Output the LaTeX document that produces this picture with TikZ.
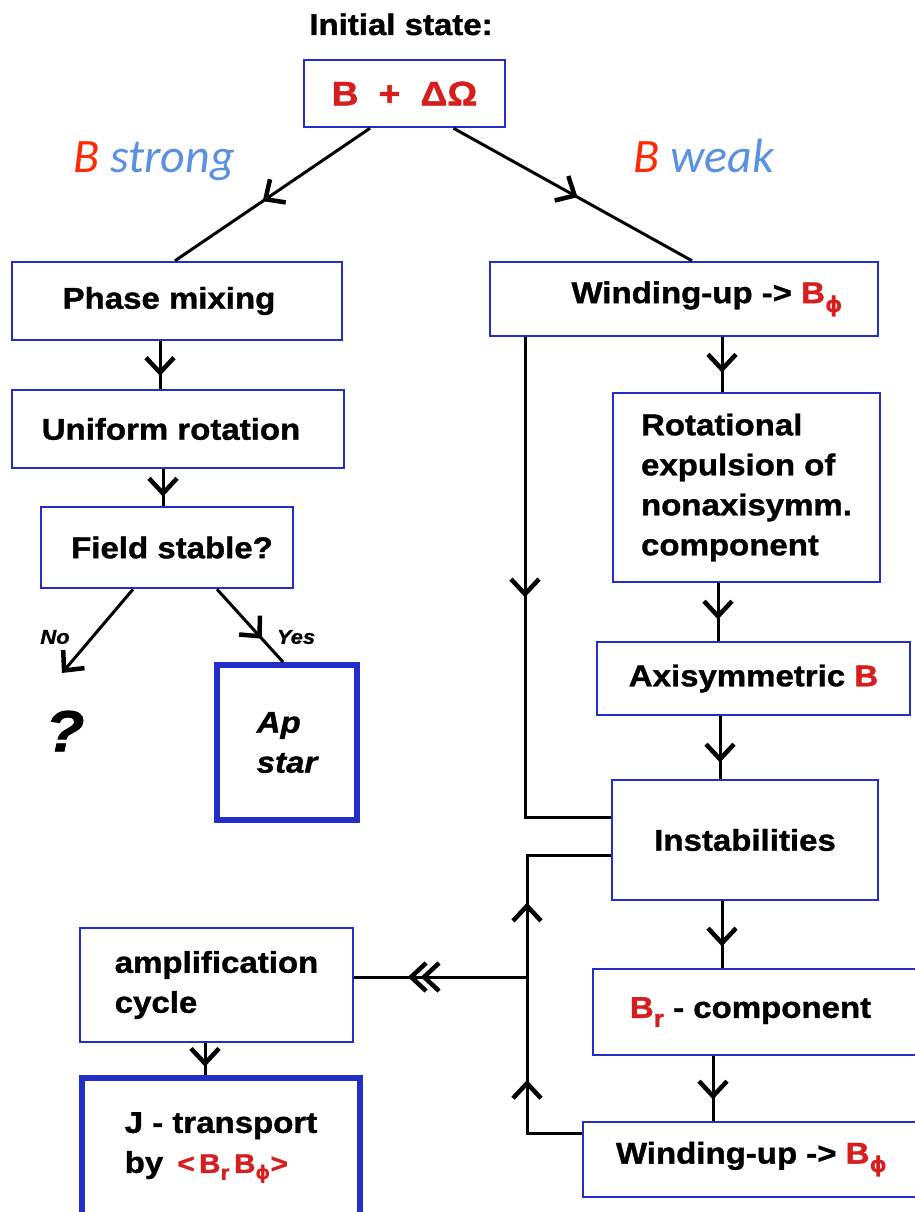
\documentclass[tikz,border=0pt]{standalone}
\usepackage{fontspec}
\newfontfamily\hv{Liberation Sans}[FakeStretch=1.1,FakeBold=1.2]
\newfontfamily\dv{DejaVu Sans}
\newfontfamily\cb{Carlito}
\usetikzlibrary{arrows.meta,decorations.markings,calc}
\definecolor{boxblue}{RGB}{35,45,200}
\definecolor{tred}{RGB}{215,30,30}
\definecolor{lred}{RGB}{255,40,0}
\definecolor{lblue}{RGB}{90,145,225}
\newcommand\myBphi[1]{{\color{tred}B\raisebox{-9pt}{\dv\bfseries\fontsize{#1}{#1}\selectfont ϕ}}}
\tikzset{
  barb/.tip={Straight Barb[length=15pt,width=28pt,line width=4.5pt]},
  conn/.style={draw=black,line width=3pt},
  marr/.style={postaction={decorate,decoration={markings,mark=at position #1 with {\arrow{barb}}}}},
  dmarr/.style 2 args={postaction={decorate,decoration={markings,
      mark=at position #1 with {\arrow{barb}},
      mark=at position #2 with {\arrow{barb}}}}},
  box/.style={draw=boxblue,line width=2.5pt,inner sep=0pt,fill=white,
      font=\hv\bfseries\fontsize{30}{40}\selectfont},
  thickbox/.style={box,line width=6pt},
  lbl/.style={inner sep=0pt,font=\hv\bfseries\fontsize{30}{40}\selectfont},
  hdr/.style={inner sep=0pt,font=\cb\itshape\fontsize{48}{50}\selectfont},
  small/.style={inner sep=0pt,font=\hv\bfseries\itshape\fontsize{20}{20}\selectfont},
}
\begin{document}
\begin{tikzpicture}[x=1pt,y=-1pt]
\fill[white] (0,0) rectangle (915,1212);
\useasboundingbox (0,0) rectangle (915,1212);

% texts
\node[lbl,anchor=base] (title) at (401,35) {Initial state:};
\node[hdr,anchor=base west] (strong) at (73,172) {{\color{lred}B} {\color{lblue}strong}};
\node[hdr,anchor=base west] (weak) at (633,172) {{\color{lred}B} {\color{lblue}weak}};

% boxes
\node[box,minimum width=201pt,minimum height=67pt] (init) at (404.5,93.5)
  {\fontsize{34}{40}\selectfont\color{tred}B\hspace{20pt}+\hspace{20pt}ΔΩ};
\node[box,minimum width=330pt,minimum height=78pt] (phase) at (177,301) {Phase mixing\hspace*{16pt}};
\node[box,minimum width=332pt,minimum height=78pt] (unif) at (178,429) {Uniform rotation\hspace*{14pt}};
\node[box,minimum width=252pt,minimum height=81pt] (field) at (167,547.5) {\hspace*{10pt}Field stable?};
\node[thickbox,minimum width=140pt,minimum height=155pt,align=left,
      font=\hv\bfseries\itshape\fontsize{30}{40}\selectfont] (ap) at (287,742.5) {Ap\\star};
\node[inner sep=0pt,font=\hv\bfseries\itshape\fontsize{58}{58}\selectfont] (quest) at (65,731) {?};
\node[small] (no) at (55,637) {No};
\node[small] (yes) at (296,637) {Yes};

\node[box,minimum width=388pt,minimum height=74pt] (wind1) at (684,299)
  {\hspace*{46pt}Winding-up -> \myBphi{22}};
\node[box,minimum width=267pt,minimum height=189pt,align=left] (rot) at (746.5,487.5)
  {Rotational\\expulsion of\\nonaxisymm.\\component};
\node[box,minimum width=313pt,minimum height=73pt] (axi) at (753.5,678.5)
  {Axisymmetric {\color{tred}B}};
\node[box,minimum width=266pt,minimum height=120pt] (ins) at (745,840) {Instabilities};
\node[box,minimum width=327pt,minimum height=86pt] (br) at (756.5,1012)
  {{\color{tred}B\raisebox{-9pt}{\fontsize{24}{24}\selectfont r}} - component\hspace*{12pt}};
\node[box,minimum width=337pt,minimum height=75pt] (w2) at (751.5,1159.5)
  {Winding-up -> \myBphi{22}};

\node[box,minimum width=273pt,minimum height=114pt,align=left] (amp) at (216.5,985)
  {amplification\\cycle};
\node[thickbox,minimum width=278pt,minimum height=140pt,align=left] (jt) at (221,1148)
  {J - transport\\by\hspace{14pt}{\color{tred}\fontsize{27}{30}\selectfont
   <\,B\raisebox{-7pt}{\fontsize{21}{21}\selectfont r}\,B\raisebox{-7pt}{\dv\bfseries\fontsize{19}{19}\selectfont ϕ}>}};

% coordinates
\coordinate (qa) at (62,673);
\coordinate (k) at (525,817);
\coordinate (j1) at (527,1133);
\coordinate (j2) at (527,977);
\coordinate (j3) at (527,855);

% connectors
\draw[conn,marr=0.55] ([xshift=-34.5pt]init.south) -- ([xshift=-2pt]phase.north);
\draw[conn,marr=0.52] ([xshift=49pt]init.south) -- ([xshift=8pt]wind1.north);
\draw[conn,marr=0.73] ([xshift=-17pt]phase.south) -- ([xshift=-17pt]phase.south |- unif.north);
\draw[conn,marr=0.75] ([xshift=-15pt]unif.south) -- ([xshift=-15pt]unif.south |- field.north);
\draw[conn,-{barb}] ([xshift=-34pt]field.south) -- (qa);
\draw[conn,marr=0.68] ([xshift=50pt]field.south) -- ([xshift=-4pt]ap.north);

\draw[conn,marr=0.65] ([xshift=38pt]wind1.south) -- ([xshift=38pt]wind1.south |- rot.north);
\draw[conn,marr=0.46] (k |- wind1.south) -- (k) -- (k -| ins.west);
\draw[conn,marr=0.63] ([xshift=-28.5pt]rot.south) -- ([xshift=-28.5pt]rot.south |- axi.north);
\draw[conn,marr=0.74] ([xshift=-33.5pt]axi.south) -- ([xshift=-33.5pt]axi.south |- ins.north);
\draw[conn,marr=0.68] ([xshift=-23pt]ins.south) -- ([xshift=-23pt]ins.south |- br.north);
\draw[conn,marr=0.67] ([xshift=-43.5pt]br.south) -- ([xshift=-43.5pt]br.south |- w2.north);

\draw[conn,line join=miter] (j1 -| w2.west) -- (j1) -- (j3) -- (j3 -| ins.west);
\draw[conn,marr=0.34] (j1) -- (j2);
\draw[conn,marr=0.61] (j2) -- (j3);
\draw[conn,dmarr={0.615}{0.69}] (j2) -- (j2 -| amp.east);
\draw[conn,marr=0.74] ([xshift=-11.5pt]amp.south) -- ([xshift=-11.5pt]amp.south |- jt.north);
\end{tikzpicture}
\end{document}
